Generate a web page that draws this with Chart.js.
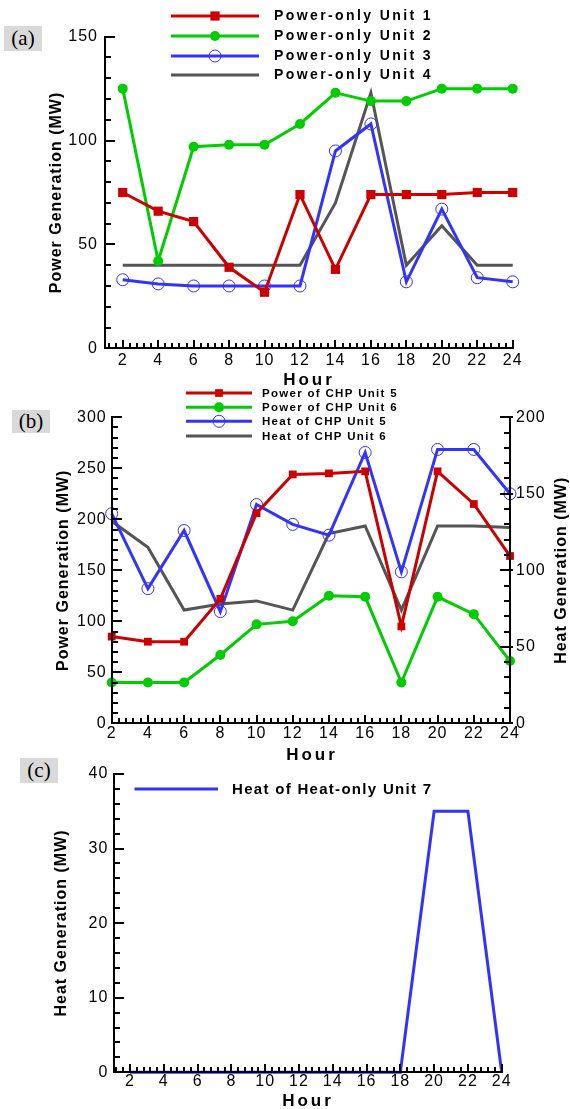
<!DOCTYPE html>
<html>
<head>
<meta charset="utf-8">
<script src="https://cdn.jsdelivr.net/npm/chart.js@4.4.1/dist/chart.umd.min.js"></script>
<style>
  body { margin: 0; background: #fff; width: 570px; height: 1109px; position: relative; overflow: hidden; }
  canvas { position: absolute; left: 0; }
  .tag { position: absolute; background: #d9d9d9; font: 21px 'Liberation Serif', 'DejaVu Serif', serif; text-align: center; color: #000; }
</style>
</head>
<body>
<div class="tag" style="left:4px;top:26px;width:38px;height:25px;line-height:25px">(a)</div>
<div class="tag" style="left:12px;top:410px;width:38px;height:23px;line-height:23px">(b)</div>
<div class="tag" style="left:20px;top:758px;width:38px;height:25px;line-height:25px">(c)</div>
<canvas id="chartA" width="570" height="395" style="top:0px"></canvas>
<canvas id="chartB" width="570" height="390" style="top:380px"></canvas>
<canvas id="chartC" width="570" height="364" style="top:745px"></canvas>
<script>
// hours on the x axis (every second hour is marked)
const hours = [2, 4, 6, 8, 10, 12, 14, 16, 18, 20, 22, 24];
const hourLabels = [2, 4, 6, 8, 10, 12, 14, 16, 18, 20, 22, 24];

// (a) power-only units, MW
const unit1Power = [75, 66, 61, 39, 27, 74, 38, 74, 74, 74, 75, 75];
const unit2Power = [125, 42, 97, 98, 98, 108, 123, 119, 119, 125, 125, 125];
const unit3Power = [33, 31, 30, 30, 30, 30, 95, 108, 32, 67, 34, 32];
const unit4Power = [40, 40, 40, 40, 40, 40, 70, 123, 40, 59, 40, 40];
const powerLabelsA = [0, 50, 100, 150];

// (b) CHP units, power on the left axis, heat on the right axis
const chp5Power = [85, 80, 80, 122, 206, 244, 245, 247, 95, 247, 215, 164];
const chp6Power = [40, 40, 40, 67, 97, 100, 125, 124, 40, 124, 107, 61];
const chp5Heat = [137, 88, 126, 73, 143, 130, 123, 177, 99, 179, 179, 150];
const chp6Heat = [132, 115, 74, 78, 80, 74, 124, 129, 74, 129, 129, 128];
const powerLabelsB = [0, 50, 100, 150, 200, 250, 300];
const heatLabelsB = [0, 50, 100, 150, 200];

// (c) heat-only unit
const unit7Heat = [0, 0, 0, 0, 0, 0, 0, 0, 0, 35, 35, 0];
const heatLabelsC = [0, 10, 20, 30, 40];

const RED = '#cc0000', GREEN = '#00cc00', BLUE = '#3333ff', GREY = '#555555';
const FONT = "'Liberation Sans', Arial, sans-serif";

Chart.defaults.font.family = FONT;
Chart.defaults.color = '#000';

const pts = (ys) => hours.map((h, i) => ({ x: h, y: ys[i] }));
const rnd = (v) => Math.round(v * 1000) / 1000;

function tickValues(min, max, step) {
  const out = [];
  for (let k = Math.ceil(min / step - 1e-9); k * step <= max + 1e-9; k++) {
    out.push({ value: rnd(k * step) });
  }
  return out;
}

// minor/major tick layout per axis, kept outside the chart options
const axisMarks = {};

// linear axis with minor ticks; only values in "labels" get text
function axis(chartId, id, position, min, max, step, labels, size, pad) {
  axisMarks[chartId] = axisMarks[chartId] || {};
  axisMarks[chartId][id] = { step, labels };
  const horizontal = position === 'bottom';
  return {
    type: 'linear', position, min, max,
    grid: { display: false, drawTicks: false },
    border: { display: false },
    afterBuildTicks: (s) => { s.ticks = tickValues(min, max, step); },
    afterFit: (s) => { if (horizontal) s.height = size; else s.width = size; },
    ticks: {
      autoSkip: false, maxRotation: 0, minRotation: 0,
      padding: pad,
      font: { size: 16 },
      callback: (v) => labels.includes(rnd(v)) ? String(rnd(v)) : ''
    }
  };
}

function line(label, data, color, style, radius, extra) {
  return Object.assign({
    label, data: pts(data),
    borderColor: color, backgroundColor: color,
    borderWidth: 3, tension: 0, clip: false,
    pointStyle: style || 'circle',
    pointRadius: radius || 0,
    pointBackgroundColor: color, pointBorderColor: color, pointBorderWidth: 0
  }, extra || {});
}

function drawFrame(chart) {
  const { ctx, chartArea: a } = chart;
  const marks = axisMarks[chart.canvas.id];
  const L = Math.round(a.left), R = Math.round(a.right), B = Math.round(a.bottom), T = Math.round(a.top);
  ctx.save();
  ctx.strokeStyle = '#000';
  ctx.fillStyle = '#000';
  Object.values(chart.scales).forEach((s) => {
    const pos = s.position;
    const m = marks[s.id];
    // axis line as a 2px bar
    if (pos === 'bottom') ctx.fillRect(L - 1, B - 1, R - L + 2, 2);
    else ctx.fillRect((pos === 'left' ? L : R) - 1, T - 1, 2, B - T + 2);
    tickValues(s.min, s.max, m.step).forEach((t) => {
      const p = Math.round(s.getPixelForValue(t.value));
      const major = m.labels.includes(t.value);
      if (pos === 'bottom') {
        const len = major ? 8 : 5;
        ctx.fillRect(p - 1, B - len, 2, len);
      } else if (pos === 'left') {
        const len = major ? 10 : 6;
        ctx.fillRect(L, p - 1, len, 2);
      } else {
        const len = major ? 10 : 6;
        const out = major ? 3 : 0;
        ctx.fillRect(R - len, p - 1, len + out, 2);
      }
    });
  });
  ctx.restore();
}

function drawLegend(chart, lg) {
  const ctx = chart.ctx;
  ctx.save();
  chart.data.datasets.forEach((ds, i) => {
    const y = lg.rows[i];
    ctx.strokeStyle = ds.borderColor;
    ctx.lineWidth = ds.borderWidth;
    ctx.beginPath(); ctx.moveTo(lg.x1, y); ctx.lineTo(lg.x2, y); ctx.stroke();
    if (ds.pointRadius > 0) {
      ctx.fillStyle = ds.pointBackgroundColor;
      ctx.strokeStyle = ds.pointBorderColor;
      ctx.lineWidth = ds.pointBorderWidth;
      Chart.helpers.drawPoint(ctx, { pointStyle: ds.pointStyle, radius: ds.pointRadius, rotation: 0, borderWidth: ds.pointBorderWidth }, lg.mark, y);
    }
    ctx.fillStyle = '#000';
    ctx.font = lg.font;
    ctx.letterSpacing = lg.spacing;
    ctx.textAlign = 'left';
    ctx.textBaseline = 'middle';
    ctx.fillText(ds.label, lg.textX, y + 0.5);
  });
  ctx.restore();
}

function drawTitles(chart, titles) {
  const ctx = chart.ctx;
  titles.forEach((t) => {
    ctx.save();
    ctx.translate(t.x, t.y);
    if (t.rot) ctx.rotate(-Math.PI / 2);
    ctx.font = t.font;
    ctx.letterSpacing = t.spacing;
    ctx.fillStyle = '#000';
    ctx.textAlign = 'center';
    ctx.textBaseline = 'middle';
    ctx.fillText(t.text, 0, 0);
    ctx.restore();
  });
}

const panelPlugin = {
  id: 'panel',
  beforeDraw(chart) { chart.ctx.letterSpacing = '1px'; },
  afterDatasetsDraw(chart, args, o) {
    drawFrame(chart);
    drawLegend(chart, o.legend);
    drawTitles(chart, o.titles);
  }
};

const TITLE_FONT = 'bold 16px ' + FONT;
const HOUR_FONT = 'bold 17px ' + FONT;

function baseOptions(padding, scales, panel) {
  return {
    responsive: false, animation: false,
    layout: { padding },
    scales,
    plugins: { legend: { display: false }, tooltip: { enabled: false }, panel }
  };
}

// (a)
new Chart(document.getElementById('chartA'), {
  type: 'line',
  data: {
    datasets: [
      line('Power-only Unit 1', unit1Power, RED, 'rect', 6.5),
      line('Power-only Unit 2', unit2Power, GREEN, 'circle', 5),
      line('Power-only Unit 3', unit3Power, BLUE, 'circle', 6, { pointBackgroundColor: 'rgba(0,0,0,0)', pointBorderWidth: 1 }),
      line('Power-only Unit 4', unit4Power, GREY)
    ]
  },
  options: baseOptions(
    { top: 36.7, right: 57.3, left: 0, bottom: 0 },
    {
      x: axis('chartA', 'x', 'bottom', 1, 24, 0.4, hourLabels, 46.7, 3),
      y: axis('chartA', 'y', 'left', 0, 150, 10, powerLabelsA, 105, 7)
    },
    {
      legend: { x1: 171, x2: 259, mark: 215, textX: 274, rows: [16, 36, 56, 75], font: 'bold 14px ' + FONT, spacing: '2.4px' },
      titles: [
        { text: 'Power Generation (MW)', x: 56.5, y: 192.5, rot: true, font: TITLE_FONT, spacing: '1px' },
        { text: 'Hour', x: 309, y: 380, rot: false, font: HOUR_FONT, spacing: '3px' }
      ]
    }
  ),
  plugins: [panelPlugin]
});

// (b)
new Chart(document.getElementById('chartB'), {
  type: 'line',
  data: {
    datasets: [
      line('Power of CHP Unit 5', chp5Power, RED, 'rect', 5.5, { yAxisID: 'y' }),
      line('Power of CHP Unit 6', chp6Power, GREEN, 'circle', 5, { yAxisID: 'y' }),
      line('Heat of CHP Unit 5', chp5Heat, BLUE, 'circle', 6, { yAxisID: 'y2', pointBackgroundColor: 'rgba(0,0,0,0)', pointBorderWidth: 1 }),
      line('Heat of CHP Unit 6', chp6Heat, GREY, 'circle', 0, { yAxisID: 'y2' })
    ]
  },
  options: baseOptions(
    { top: 37.3, right: 0, left: 0, bottom: 0 },
    {
      x: axis('chartB', 'x', 'bottom', 2, 24, 0.4, hourLabels, 46.7, 0.5),
      y: axis('chartB', 'y', 'left', 0, 300, 10, powerLabelsB, 111.7, 5),
      y2: axis('chartB', 'y2', 'right', 0, 200, 10, heatLabelsB, 60, 6)
    },
    {
      legend: { x1: 186, x2: 252, mark: 219, textX: 262, rows: [13, 27.3, 41.3, 56], font: 'bold 11.5px ' + FONT, spacing: '1.3px' },
      titles: [
        { text: 'Power Generation (MW)', x: 64, y: 190.3, rot: true, font: TITLE_FONT, spacing: '1px' },
        { text: 'Heat Generation (MW)', x: 561.5, y: 190.3, rot: true, font: TITLE_FONT, spacing: '1px' },
        { text: 'Hour', x: 312, y: 375, rot: false, font: HOUR_FONT, spacing: '3px' }
      ]
    }
  ),
  plugins: [panelPlugin]
});

// (c)
new Chart(document.getElementById('chartC'), {
  type: 'line',
  data: {
    datasets: [
      line('Heat of Heat-only Unit 7', unit7Heat, BLUE)
    ]
  },
  options: baseOptions(
    { top: 29, right: 68.3, left: 0, bottom: 0 },
    {
      x: axis('chartC', 'x', 'bottom', 1.07, 24, 0.4, hourLabels, 36.7, 0),
      y: axis('chartC', 'y', 'left', 0, 40, 2, heatLabelsC, 114.3, 6)
    },
    {
      legend: { x1: 134.5, x2: 218, mark: 176, textX: 232, rows: [44], font: 'bold 15px ' + FONT, spacing: '1.3px' },
      titles: [
        { text: 'Heat Generation (MW)', x: 62, y: 178, rot: true, font: TITLE_FONT, spacing: '1px' },
        { text: 'Hour', x: 308, y: 356, rot: false, font: HOUR_FONT, spacing: '3px' }
      ]
    }
  ),
  plugins: [panelPlugin]
});
</script>
</body>
</html>
